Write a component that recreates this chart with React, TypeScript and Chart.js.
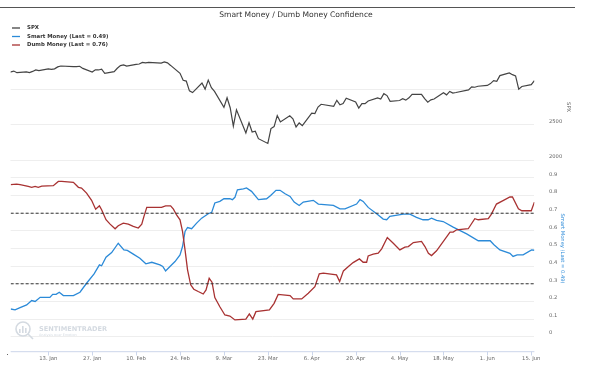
import { useEffect, useRef } from "react";
import { Chart, registerables } from "chart.js";

Chart.register(...registerables);

const FONT = '"DejaVu Sans", Verdana, sans-serif';
const TITLE = "Smart Money / Dumb Money Confidence";

const spxDates = [
  "2019-12-31", "2020-01-02", "2020-01-03", "2020-01-06", "2020-01-07", "2020-01-08", "2020-01-09", "2020-01-10",
  "2020-01-13", "2020-01-14", "2020-01-15", "2020-01-16", "2020-01-17", "2020-01-21", "2020-01-22", "2020-01-23",
  "2020-01-24", "2020-01-27", "2020-01-28", "2020-01-29", "2020-01-30", "2020-01-31", "2020-02-03", "2020-02-04",
  "2020-02-05", "2020-02-06", "2020-02-07", "2020-02-10", "2020-02-11", "2020-02-12", "2020-02-13", "2020-02-14",
  "2020-02-18", "2020-02-19", "2020-02-20", "2020-02-21", "2020-02-24", "2020-02-25", "2020-02-26", "2020-02-27",
  "2020-02-28", "2020-03-02", "2020-03-03", "2020-03-04", "2020-03-05", "2020-03-06", "2020-03-09", "2020-03-10",
  "2020-03-11", "2020-03-12", "2020-03-13", "2020-03-16", "2020-03-17", "2020-03-18", "2020-03-19", "2020-03-20",
  "2020-03-23", "2020-03-24", "2020-03-25", "2020-03-26", "2020-03-27", "2020-03-30", "2020-03-31", "2020-04-01",
  "2020-04-02", "2020-04-03", "2020-04-06", "2020-04-07", "2020-04-08", "2020-04-09", "2020-04-13", "2020-04-14",
  "2020-04-15", "2020-04-16", "2020-04-17", "2020-04-20", "2020-04-21", "2020-04-22", "2020-04-23", "2020-04-24",
  "2020-04-27", "2020-04-28", "2020-04-29", "2020-04-30", "2020-05-01", "2020-05-04", "2020-05-05", "2020-05-06",
  "2020-05-07", "2020-05-08", "2020-05-11", "2020-05-12", "2020-05-13", "2020-05-14", "2020-05-15", "2020-05-18",
  "2020-05-19", "2020-05-20", "2020-05-21", "2020-05-22", "2020-05-26", "2020-05-27", "2020-05-28", "2020-05-29",
  "2020-06-01", "2020-06-02", "2020-06-03", "2020-06-04", "2020-06-05", "2020-06-08", "2020-06-09", "2020-06-10",
  "2020-06-11", "2020-06-12", "2020-06-15", "2020-06-16",
];
const spxValues = [
  3230.78, 3257.85, 3234.85, 3246.28, 3237.18, 3253.05, 3274.7, 3265.35,
  3288.13, 3283.15, 3289.29, 3316.81, 3329.62, 3320.79, 3321.75, 3325.54,
  3295.47, 3243.63, 3276.24, 3273.4, 3283.66, 3225.52, 3248.92, 3297.59,
  3334.69, 3345.78, 3327.71, 3352.09, 3357.75, 3379.45, 3373.94, 3380.16,
  3370.29, 3386.15, 3373.23, 3337.75, 3225.89, 3128.21, 3116.39, 2978.76,
  2954.22, 3090.23, 3003.37, 3130.12, 3023.94, 2972.37, 2746.56, 2882.23,
  2741.38, 2480.64, 2711.02, 2386.13, 2529.19, 2398.1, 2409.39, 2304.92,
  2237.4, 2447.33, 2475.56, 2630.07, 2541.47, 2626.65, 2584.59, 2470.5,
  2526.9, 2488.65, 2663.68, 2659.41, 2749.98, 2789.82, 2761.63, 2846.06,
  2783.36, 2799.55, 2874.56, 2823.16, 2736.56, 2799.31, 2797.8, 2836.74,
  2878.48, 2863.39, 2939.51, 2912.43, 2830.71, 2842.74, 2868.44, 2848.42,
  2881.19, 2929.8, 2930.32, 2870.12, 2820.0, 2852.5, 2863.7, 2953.91,
  2922.94, 2971.61, 2948.51, 2955.45, 2991.77, 3036.13, 3029.73, 3044.31,
  3055.73, 3080.82, 3122.87, 3112.35, 3193.93, 3232.39, 3207.18, 3190.14,
  3002.1, 3041.31, 3066.59, 3124.74,
];

// days counted from 1 Jan 2020
const smartDays = [
  0, 1.4, 3, 5.1, 6.7, 7.8, 9.4, 12.5, 13.4, 14.5, 15.5, 16.8, 20, 22.1, 24.2, 26.6, 28.3, 29, 30.4, 32.2,
  34.3, 36.1, 37.2, 39.1, 41.2, 43.1, 45, 47.6, 48.5, 49.4, 50.8, 52.4, 54, 54.8, 55.6, 56.4, 57.7, 59.3, 60.9, 63,
  64.1, 65.1, 66.7, 68, 69.9, 70.7, 71.5, 72.3, 74.2, 75.2, 76.8, 79, 81.6, 82.9, 84.6, 85.9, 87.5, 89.1, 90.4, 92,
  93.3, 96.5, 98.1, 102.9, 105, 106.6, 110.3, 111.4, 112.4, 114, 116.7, 118.8, 119.9, 120.9, 125.2, 127.3, 129.4,
  131.5, 133.1, 134.2, 135.8, 137.9, 141.1, 145.4, 149.1, 152.9, 154.1, 156, 159.2, 160.2, 161.5, 163.4, 166.1, 167,
];
const smartValues = [
  0.157, 0.152, 0.165, 0.18, 0.205, 0.2, 0.223, 0.223, 0.24, 0.24, 0.252, 0.233, 0.233, 0.252, 0.303, 0.356, 0.407, 0.402, 0.451, 0.477,
  0.53, 0.492, 0.489, 0.468, 0.445, 0.413, 0.422, 0.407, 0.398, 0.373, 0.398, 0.426, 0.464, 0.511, 0.597, 0.619, 0.612, 0.644, 0.672, 0.697,
  0.705, 0.758, 0.767, 0.782, 0.782, 0.777, 0.79, 0.833, 0.838, 0.843, 0.824, 0.777, 0.782, 0.8, 0.83, 0.83, 0.81, 0.795, 0.763, 0.744,
  0.763, 0.773, 0.752, 0.744, 0.725, 0.725, 0.752, 0.777, 0.767, 0.733, 0.697, 0.667, 0.663, 0.682, 0.695, 0.695, 0.676,
  0.663, 0.663, 0.672, 0.659, 0.653, 0.621, 0.583, 0.544, 0.544, 0.521, 0.492, 0.473, 0.455, 0.464, 0.464, 0.492, 0.49,
];

const dumbDays = [
  0, 1.9, 3, 5.6, 6.7, 7.8, 8.8, 9.9, 13.6, 15.2, 16.3, 20, 21.6, 22.6, 24.2, 25.8, 27.1, 28.3, 29, 30.4,
  31.7, 33.3, 34.3, 35.9, 37.5, 39.1, 40.7, 41.8, 42.5, 43.4, 48.1, 49.4, 51, 51.9, 52.9, 54, 54.8, 55.6, 56.4, 57.4,
  58.4, 59.8, 61.4, 62.3, 63.3, 64.2, 65.1, 66.7, 68.3, 69.9, 71.5, 75, 76.1, 77.2, 78.2, 82.5, 84, 85.3, 89.1, 90.1,
  92.8, 94.9, 97, 98.4, 99.7, 103.9, 104.9, 106.1, 107.7, 109.2, 111.2, 112.4, 113.5, 114, 115.6, 117.2, 118.3, 120.1,
  122, 124.1, 125.7, 126.8, 128.4, 131, 132.1, 133.2, 134.2, 135.8, 140.1, 141.1, 142.2, 145.9, 148, 149.1, 152.3,
  153.3, 154.9, 157, 159.2, 160, 161.9, 163, 166, 167,
];
const dumbValues = [
  0.862, 0.865, 0.862, 0.852, 0.847, 0.852, 0.847, 0.854, 0.856, 0.88, 0.881, 0.875, 0.847, 0.843, 0.814, 0.773, 0.723, 0.742, 0.72, 0.663,
  0.638, 0.612, 0.629, 0.644, 0.638, 0.625, 0.616, 0.638, 0.682, 0.733, 0.733, 0.742, 0.742, 0.723, 0.69, 0.663, 0.597, 0.492, 0.379, 0.294,
  0.269, 0.256, 0.242, 0.265, 0.331, 0.309, 0.222, 0.17, 0.123, 0.117, 0.095, 0.1, 0.129, 0.1, 0.142, 0.152, 0.189, 0.24, 0.233, 0.214,
  0.214, 0.246, 0.284, 0.356, 0.36, 0.35, 0.3125, 0.373, 0.398, 0.42, 0.441, 0.422, 0.422, 0.458, 0.468, 0.473, 0.498, 0.5625,
  0.53, 0.492, 0.508, 0.511, 0.534, 0.54, 0.511, 0.473, 0.46, 0.487, 0.593, 0.593, 0.606, 0.612, 0.669, 0.663, 0.669,
  0.695, 0.752, 0.771, 0.792, 0.792, 0.725, 0.714, 0.714, 0.763,
];

const tickDates = [
  "2020-01-13", "2020-01-27", "2020-02-10", "2020-02-24", "2020-03-09", "2020-03-23",
  "2020-04-06", "2020-04-20", "2020-05-04", "2020-05-18", "2020-06-01", "2020-06-15",
];
const tickLabels = ["13. Jan", "27. Jan", "10. Feb", "24. Feb", "9. Mar", "23. Mar", "6. Apr", "20. Apr", "4. May", "18. May", "1. Jun", "15. Jun"];
const spxLabelledTicks = [2000, 2500];
const thresholds = [0.7, 0.3];
const smartLast = 0.49;
const dumbLast = 0.76;
const xStart = "2020-01-01";
const xEnd = "2020-06-16";

const SPX_COLOR = "#444444";
const SMART_COLOR = "#2b8ad8";
const DUMB_COLOR = "#a83232";

const dayOf = (iso: string) => {
  const [y, m, d] = iso.split("-").map(Number);
  return (Date.UTC(y, m - 1, d) - Date.UTC(2020, 0, 1)) / 86400000;
};

const legendItems = [
  { label: "SPX", color: SPX_COLOR },
  { label: `Smart Money (Last = ${smartLast.toFixed(2)})`, color: SMART_COLOR },
  { label: `Dumb Money (Last = ${dumbLast.toFixed(2)})`, color: DUMB_COLOR },
];

const decor = {
  id: "decor",
  beforeDatasetsDraw(chart: any) {
    const ctx = chart.ctx;
    ctx.save();
    // watermark
    ctx.strokeStyle = "#d4dae1";
    ctx.fillStyle = "#d4dae1";
    ctx.lineWidth = 1.6;
    ctx.beginPath();
    ctx.arc(23, 329, 7, 0, Math.PI * 2);
    ctx.stroke();
    ctx.beginPath();
    ctx.moveTo(28, 334);
    ctx.lineTo(33, 339);
    ctx.stroke();
    ctx.fillRect(19, 329, 1.6, 4);
    ctx.fillRect(22, 326, 1.6, 7);
    ctx.fillRect(25, 328, 1.6, 5);
    ctx.font = `bold 6.6px ${FONT}`;
    ctx.textAlign = "left";
    ctx.textBaseline = "middle";
    ctx.fillText("SENTIMENTRADER", 39, 329);
    ctx.font = `3.4px ${FONT}`;
    ctx.fillText("Analysis over Emotion", 39, 335.5);
    ctx.restore();
  },
  afterDraw(chart: any) {
    const ctx = chart.ctx;
    const area = chart.chartArea;
    const xs = chart.scales.x;
    ctx.save();
    // top rule
    ctx.strokeStyle = "#555555";
    ctx.lineWidth = 1.2;
    ctx.beginPath();
    ctx.moveTo(0, 7.5);
    ctx.lineTo(575, 7.5);
    ctx.stroke();
    // title
    ctx.fillStyle = "#333333";
    ctx.font = `7.6px ${FONT}`;
    ctx.textAlign = "center";
    ctx.textBaseline = "middle";
    ctx.fillText(TITLE, 296, 15);
    // legend
    ctx.font = `bold 5.4px ${FONT}`;
    ctx.textAlign = "left";
    legendItems.forEach((it, i) => {
      const y = 28 + i * 8.5;
      ctx.strokeStyle = it.color;
      ctx.lineWidth = 1.3;
      ctx.beginPath();
      ctx.moveTo(12, y);
      ctx.lineTo(20, y);
      ctx.stroke();
      ctx.fillStyle = "#333333";
      ctx.fillText(it.label, 27, y);
    });
    // x axis line with ticks
    const axisY = 351.7;
    ctx.strokeStyle = "#ccd6eb";
    ctx.lineWidth = 1;
    ctx.beginPath();
    ctx.moveTo(area.left, axisY);
    ctx.lineTo(area.right, axisY);
    tickDates.forEach((d) => {
      const px = Math.round(xs.getPixelForValue(dayOf(d))) + 0.5;
      ctx.moveTo(px, axisY);
      ctx.lineTo(px, axisY + 3.8);
    });
    ctx.stroke();
    // small mark at the left end
    ctx.fillStyle = "#666666";
    ctx.fillRect(7, 354, 1, 1);
    ctx.restore();
  },
};

export default function App() {
  const ref = useRef<HTMLCanvasElement>(null);
  useEffect(() => {
    if (!ref.current) return;
    const tickDays = tickDates.map(dayOf);
    const x0 = dayOf(xStart);
    const x1 = dayOf(xEnd);
    const lineBase = { pointRadius: 0, tension: 0, borderWidth: 1.3, fill: false };
    const chart = new Chart(ref.current, {
      type: "line",
      data: {
        datasets: [
          ...thresholds.map((t) => ({
            ...lineBase,
            label: `threshold ${t}`,
            data: [{ x: x0, y: t }, { x: x1, y: t }],
            borderColor: "#333333",
            borderWidth: 1,
            borderDash: [3, 2],
            yAxisID: "y2",
          })),
          {
            ...lineBase,
            label: "Dumb Money",
            data: dumbDays.map((d, i) => ({ x: d, y: dumbValues[i] })),
            borderColor: DUMB_COLOR,
            yAxisID: "y2",
          },
          {
            ...lineBase,
            label: "Smart Money",
            data: smartDays.map((d, i) => ({ x: d, y: smartValues[i] })),
            borderColor: SMART_COLOR,
            yAxisID: "y2",
          },
          {
            ...lineBase,
            label: "SPX",
            data: spxDates.map((d, i) => ({ x: dayOf(d), y: spxValues[i] })),
            borderColor: SPX_COLOR,
            borderWidth: 1.2,
            yAxisID: "y",
          },
        ],
      },
      options: {
        animation: false,
        responsive: false,
        devicePixelRatio: 1,
        layout: { padding: { top: 53.9, left: 10.67, right: 0, bottom: 0 } },
        plugins: { legend: { display: false }, tooltip: { enabled: false }, title: { display: false } },
        scales: {
          x: {
            type: "linear",
            min: x0,
            max: x1,
            position: "bottom",
            grid: { display: false, drawTicks: false },
            border: { display: false },
            afterBuildTicks: (s: any) => {
              s.ticks = tickDays.map((v) => ({ value: v }));
            },
            afterFit: (s: any) => {
              s.height = 39.3;
            },
            ticks: {
              autoSkip: false,
              maxRotation: 0,
              padding: 18.8,
              color: "#666666",
              font: { family: FONT, size: 5.3 },
              callback: (v: any) => {
                const i = tickDays.indexOf(Number(v));
                return i >= 0 ? tickLabels[i] : "";
              },
            },
          },
          y: {
            type: "linear",
            position: "right",
            stack: "panels",
            stackWeight: 106.4,
            min: 2000,
            max: 3500,
            afterFit: (s: any) => {
              s.width = 58.6;
            },
            grid: {
              drawTicks: false,
              color: (c: any) => (c.tick && c.tick.value === 3500 ? "rgba(0,0,0,0)" : "#eeeeee"),
              lineWidth: 1,
            },
            border: { display: false },
            ticks: {
              stepSize: 500,
              padding: 14.6,
              labelOffset: -3.6,
              color: "#666666",
              font: { family: FONT, size: 5.2 },
              callback: (v: any) => (spxLabelledTicks.includes(Number(v)) ? String(v) : ""),
            },
            title: {
              display: true,
              text: "SPX",
              color: "#666666",
              font: { family: FONT, size: 5.2 },
              padding: { top: 21.2, bottom: 0 },
            },
          },
          y2: {
            type: "linear",
            position: "right",
            stack: "panels",
            stackWeight: 176.4,
            min: 0,
            max: 1,
            afterFit: (s: any) => {
              s.width = 58.6;
            },
            grid: { drawTicks: false, color: "#eeeeee", lineWidth: 1 },
            border: { display: false },
            ticks: {
              stepSize: 0.1,
              padding: 14.6,
              labelOffset: -3.6,
              color: "#666666",
              font: { family: FONT, size: 5.2 },
              callback: (v: any) => (Number(v) >= 0.999 ? "" : String(Number(Number(v).toFixed(1)))),
            },
            title: {
              display: true,
              text: `Smart Money (Last = ${smartLast.toFixed(2)})`,
              color: SMART_COLOR,
              font: { family: FONT, size: 5.2 },
              padding: { top: 27.2, bottom: 0 },
            },
          },
        },
      },
      plugins: [decor],
    } as any);
    return () => chart.destroy();
  }, []);
  return (
    <div style={{ position: "fixed", left: 0, top: 0, width: 593, height: 376, background: "#ffffff" }}>
      <canvas ref={ref} width={593} height={376} style={{ display: "block" }} />
    </div>
  );
}
